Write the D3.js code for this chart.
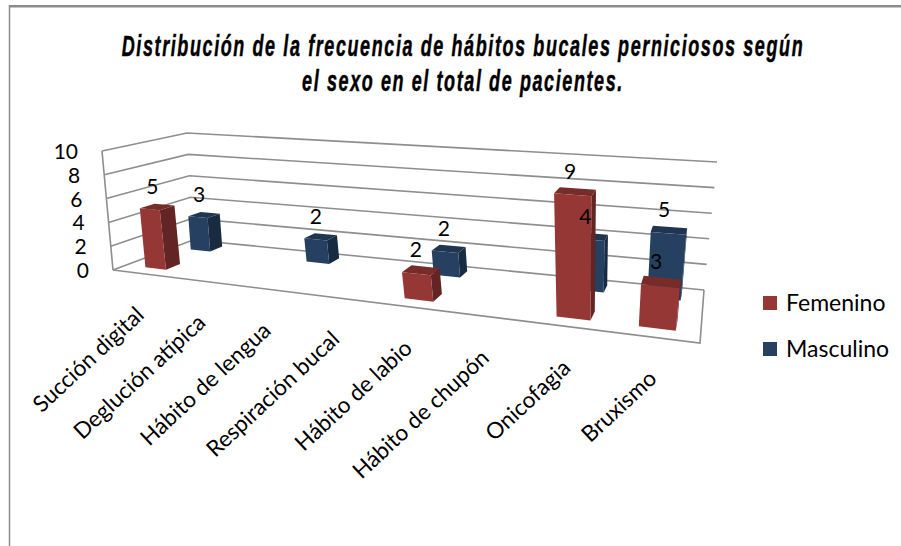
<!DOCTYPE html>
<html>
<head>
<meta charset="utf-8">
<script src="https://cdn.jsdelivr.net/npm/d3@7"></script>
<style>
  html, body { margin: 0; padding: 0; background: #fff; }
  text { fill: #000; font-family: Lato, sans-serif; }
</style>
</head>
<body>
<div id="chart-area"></div>
<script>
// Data
const categories = ["Succión digital", "Deglución atípica", "Hábito de lengua", "Respiración bucal",
	"Hábito de labio", "Hábito de chupón", "Onicofagia", "Bruxismo"];
const seriesNames = ["Femenino", "Masculino"];
const femenino = [5, 0, 0, 0, 2, 0, 9, 3];
const masculino = [3, 0, 2, 0, 2, 0, 4, 5];
const yTicks = [0, 2, 4, 6, 8, 10];
const titleLines = ["Distribución de la frecuencia de hábitos bucales perniciosos según",
	"el sexo en el total de pacientes."];

// Colours per series: front, side, top
const colors = {
	Femenino: { front: "#953735", side: "#632523", top: "#772c2a" },
	Masculino: { front: "#254061", side: "#182b41", top: "#1f3552" }
};

const width = 901;
const height = 546;

const svg = d3.select("#chart-area")
	.append("svg")
		.attr("width", width)
		.attr("height", height)
		.style("display", "block");

// Box of the 3D plot as it lands on screen
const floorQuad = [[113, 270], [700, 343], [704, 290], [193, 240]]; // front left, front right, back right, back left
const topQuad = [[102, 151], [718, 198], [717, 162], [187, 133]];

// unit square -> quad (projective)
function homography(q) {
	const [p0, p1, p2, p3] = q;
	const dx1 = p1[0] - p2[0], dx2 = p3[0] - p2[0], sx = p0[0] - p1[0] + p2[0] - p3[0];
	const dy1 = p1[1] - p2[1], dy2 = p3[1] - p2[1], sy = p0[1] - p1[1] + p2[1] - p3[1];
	const det = dx1 * dy2 - dx2 * dy1;
	const g = (sx * dy2 - dx2 * sy) / det;
	const h = (dx1 * sy - sx * dy1) / det;
	const a = p1[0] - p0[0] + g * p1[0], b = p3[0] - p0[0] + h * p3[0];
	const d = p1[1] - p0[1] + g * p1[1], e = p3[1] - p0[1] + h * p3[1];
	return (u, v) => {
		const w = g * u + h * v + 1;
		return [(a * u + b * v + p0[0]) / w, (d * u + e * v + p0[1]) / w];
	};
}
const floorAt = homography(floorQuad);
const topAt = homography(topQuad);

// Scales work in box units, project() turns them into pixels
const xScale = d3.scaleBand().domain(categories).range([0, 1]).paddingInner(0.615).paddingOuter(0.3075);
const zScale = d3.scaleBand().domain(seriesNames).range([0.15, 0.89]).paddingInner(0.7).paddingOuter(0);
const yScale = d3.scaleLinear().domain([0, 10]).range([0, 1]);

// the box corners fit the homography but the categories sit a bit more evenly than it says
const xCenter = (cat) => {
	const u = xScale(cat) + xScale.bandwidth() / 2;
	return u + 0.12 * u * (1 - u);
};

function project(u, v, value) {
	const t = yScale(value);
	const f = floorAt(u, v), c = topAt(u, v);
	return [f[0] + (c[0] - f[0]) * t, f[1] + (c[1] - f[1]) * t];
}
const poly = (pts) => "M" + pts.map(p => p.join(",")).join("L") + "Z";

// Outer frame
svg.append("path")
	.attr("d", "M9.5,5V546")
	.attr("fill", "none")
	.attr("stroke", "#8c8c8c")
	.attr("stroke-width", 1.5);
svg.append("path")
	.attr("d", "M9,6.3H901")
	.attr("fill", "none")
	.attr("stroke", "#8c8c8c")
	.attr("stroke-width", 2.5);

// Walls and floor
const grid = svg.append("g").attr("fill", "none").attr("stroke", "#8e8e8e").attr("stroke-width", 1.6);
yTicks.forEach((t) => {
	grid.append("path").attr("d", "M" + [project(0, 0, t), project(0, 1, t), project(1, 1, t)].map(p => p.join(",")).join("L"));
});
grid.append("path").attr("d", poly([project(0, 0, 0), project(1, 0, 0), project(1, 1, 0)]).replace("Z", ""));
grid.append("path").attr("d", "M" + project(0, 0, 0).join(",") + "L" + project(0, 0, 10).join(","));

// Y tick labels
svg.append("g").selectAll("text")
	.data(yTicks)
	.enter().append("text")
		.attr("x", (d) => project(0, 0, d)[0] - 24)
		.attr("y", (d) => project(0, 0, d)[1] + 8)
		.attr("font-size", "21px")
		.attr("text-anchor", "end")
		.text((d) => d);

// Bars, back row first so the front row covers it
const rows = [
	{ name: "Masculino", values: masculino },
	{ name: "Femenino", values: femenino }
];
const bars = [];
rows.forEach((row) => {
	row.values.forEach((val, i) => {
		if (val > 0) bars.push({ series: row.name, cat: categories[i], value: val });
	});
});

const barGroups = svg.append("g").selectAll("g")
	.data(bars)
	.enter().append("g");

function corners(d) {
	const u0 = xCenter(d.cat) - xScale.bandwidth() / 2, u1 = u0 + xScale.bandwidth();
	const v0 = zScale(d.series), v1 = v0 + zScale.bandwidth();
	return { u0, u1, v0, v1 };
}
barGroups.append("path")
	.attr("fill", (d) => colors[d.series].side)
	.attr("d", (d) => {
		const c = corners(d);
		return poly([project(c.u1, c.v0, 0), project(c.u1, c.v1, 0), project(c.u1, c.v1, d.value), project(c.u1, c.v0, d.value)]);
	});
barGroups.append("path")
	.attr("fill", (d) => colors[d.series].top)
	.attr("d", (d) => {
		const c = corners(d);
		return poly([project(c.u0, c.v0, d.value), project(c.u1, c.v0, d.value), project(c.u1, c.v1, d.value), project(c.u0, c.v1, d.value)]);
	});
barGroups.append("path")
	.attr("fill", (d) => colors[d.series].front)
	.attr("d", (d) => {
		const c = corners(d);
		return poly([project(c.u0, c.v0, 0), project(c.u1, c.v0, 0), project(c.u1, c.v0, d.value), project(c.u0, c.v0, d.value)]);
	});

// Value labels stay on top of every bar
svg.append("g").selectAll("text")
	.data(bars)
	.enter().append("text")
		.attr("font-size", "21px")
		.attr("text-anchor", "middle")
		.attr("transform", (d) => {
			const c = corners(d);
			const p = project((c.u0 + c.u1) / 2, (c.v0 + c.v1) / 2, d.value);
			return "translate(" + (p[0] - 5) + "," + (p[1] - 13) + ")";
		})
		.text((d) => d.value);

// Category labels
svg.append("g").selectAll("text")
	.data(categories)
	.enter().append("text")
		.attr("font-size", "22.5px")
		.attr("text-anchor", "end")
		.attr("transform", (d) => {
			const p = project(xCenter(d), 0, 0);
			return "translate(" + (p[0] + 3) + "," + (p[1] + 43) + ") rotate(-43)";
		})
		.text((d) => d);

// Legend
const legend = svg.append("g").selectAll("g")
	.data(seriesNames)
	.enter().append("g")
		.attr("transform", (d, i) => "translate(763," + (296 + i * 46) + ")");
legend.append("rect")
	.attr("width", 14)
	.attr("height", 14)
	.attr("fill", (d) => colors[d].front);
legend.append("text")
	.attr("x", 23)
	.attr("y", 15)
	.attr("font-size", "23px")
	.text((d) => d);

// Title, squeezed sideways to get the tall narrow look
svg.append("g").selectAll("text")
	.data(titleLines)
	.enter().append("text")
		.attr("text-anchor", "middle")
		.attr("transform", (d, i) => "translate(463," + (56 + i * 35) + ") scale(0.62,1)")
		.style("font-family", "'Liberation Sans', sans-serif")
		.style("font-weight", "bold")
		.style("font-style", "italic")
		.style("font-size", "29px")
		.style("letter-spacing", "2.6px")
		.style("stroke", "#000")
		.style("stroke-width", "0.5px")
		.text((d) => d);
</script>
</body>
</html>
